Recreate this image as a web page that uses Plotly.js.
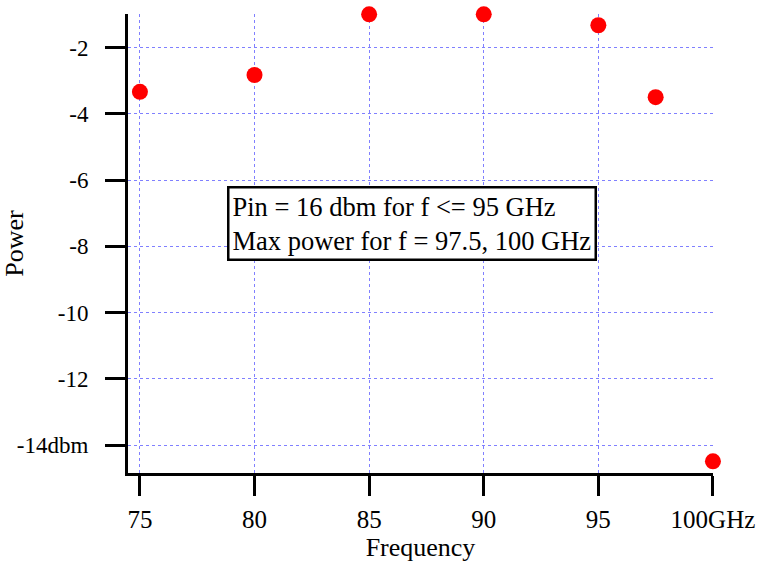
<!DOCTYPE html>
<html>
<head>
<meta charset="utf-8">
<script src="https://cdn.plot.ly/plotly-3.0.1.min.js"></script>
<style>html,body{margin:0;padding:0;background:#fff;}#chart{width:759px;height:563px;}</style>
</head>
<body>
<div id="chart"></div>
<script>
const frequency = [75, 80, 85, 90, 95, 97.5, 100];
const power = [-3.34, -2.83, -1.0, -1.0, -1.33, -3.50, -14.49];

const xTickVals = [75, 80, 85, 90, 95, 100];
const xTickText = ['75', '80', '85', '90', '95', '100GHz'];
const yTickVals = [-2, -4, -6, -8, -10, -12, -14];
const yTickText = ['-2', '-4', '-6', '-8', '-10', '-12', '-14dbm'];

const noteText = 'Pin = 16 dbm for f <= 95 GHz<br>Max power for f = 97.5, 100 GHz';

const font = 'Liberation Serif, Times New Roman, serif';

const trace = {
  x: frequency,
  y: power,
  type: 'scatter',
  mode: 'markers',
  marker: {color: '#ff0000', size: 16},
  cliponaxis: false,
  hoverinfo: 'x+y'
};

const layout = {
  width: 759,
  height: 563,
  margin: {l: 128, r: 46, t: 14, b: 90},
  paper_bgcolor: '#ffffff',
  plot_bgcolor: '#ffffff',
  showlegend: false,
  font: {family: font, size: 24, color: '#000'},
  xaxis: {
    range: [74.48, 100.002],
    tickvals: xTickVals,
    ticktext: xTickText,
    showgrid: true,
    gridcolor: '#8080ff',
    griddash: 'dot',
    gridwidth: 1,
    zeroline: false,
    showline: true,
    linecolor: '#000',
    linewidth: 3,
    ticks: 'outside',
    ticklen: 20,
    tickwidth: 3,
    tickcolor: '#000',
    ticklabelstandoff: 2,
    tickfont: {family: font, size: 25, color: '#000'},
    title: {text: 'Frequency', font: {family: font, size: 26, color: '#000'}, standoff: 6}
  },
  yaxis: {
    range: [-14.843, -0.99],
    tickvals: yTickVals,
    ticktext: yTickText,
    showgrid: true,
    gridcolor: '#8080ff',
    griddash: 'dot',
    gridwidth: 1,
    zeroline: false,
    showline: true,
    linecolor: '#000',
    linewidth: 3,
    ticks: 'outside',
    ticklen: 20,
    tickwidth: 3,
    tickcolor: '#000',
    ticklabelstandoff: 12,
    tickfont: {family: font, size: 23, color: '#000'},
    title: {text: 'Power', font: {family: font, size: 26, color: '#000'}, standoff: 6}
  },
  annotations: [{
    xref: 'paper', yref: 'paper',
    x: 0.4855, y: 0.543,
    xanchor: 'center', yanchor: 'middle',
    text: noteText,
    align: 'left',
    showarrow: false,
    font: {family: font, size: 26.5, color: '#000'},
    bgcolor: '#ffffff',
    bordercolor: '#000',
    borderwidth: 2.5,
    borderpad: 3
  }]
};

Plotly.newPlot('chart', [trace], layout, {displayModeBar: false, staticPlot: true});
</script>
</body>
</html>
